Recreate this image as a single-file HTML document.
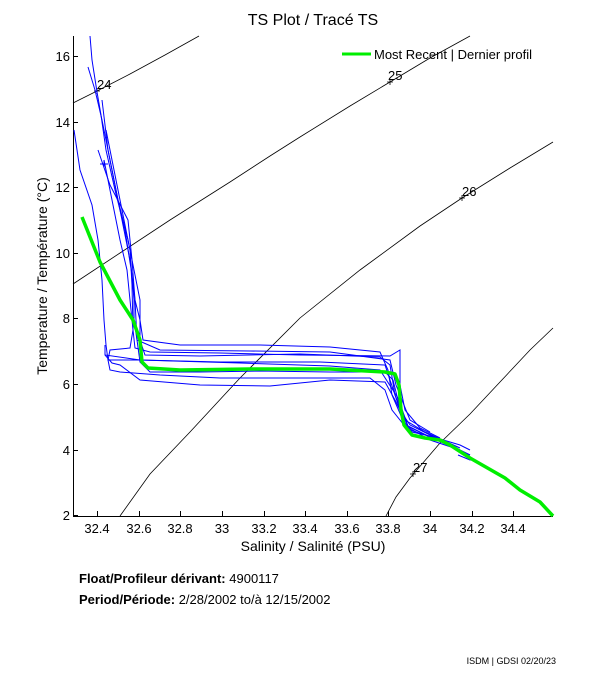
<!DOCTYPE html>
<html><head><meta charset="utf-8"><style>
html,body{margin:0;padding:0;background:#fff;width:611px;height:675px;overflow:hidden}
svg{display:block}
text{font-family:"Liberation Sans",sans-serif;fill:#000}
</style></head><body>
<svg width="611" height="675" viewBox="0 0 611 675">
<text x="313" y="25" font-size="16" text-anchor="middle">TS Plot / Tracé TS</text>
<g stroke="#000" stroke-width="1" fill="none">
<line x1="73.5" y1="36" x2="73.5" y2="516"/>
<line x1="73" y1="516.5" x2="553" y2="516.5"/>
<line x1="73" y1="56.5" x2="78" y2="56.5"/><line x1="73" y1="122.5" x2="78" y2="122.5"/>
<line x1="73" y1="187.5" x2="78" y2="187.5"/><line x1="73" y1="253.5" x2="78" y2="253.5"/>
<line x1="73" y1="318.5" x2="78" y2="318.5"/><line x1="73" y1="384.5" x2="78" y2="384.5"/>
<line x1="73" y1="450.5" x2="78" y2="450.5"/><line x1="73" y1="515.5" x2="78" y2="515.5"/>
<line x1="97.5" y1="516" x2="97.5" y2="511"/><line x1="139.5" y1="516" x2="139.5" y2="511"/>
<line x1="180.5" y1="516" x2="180.5" y2="511"/><line x1="222.5" y1="516" x2="222.5" y2="511"/>
<line x1="264.5" y1="516" x2="264.5" y2="511"/><line x1="305.5" y1="516" x2="305.5" y2="511"/>
<line x1="347.5" y1="516" x2="347.5" y2="511"/><line x1="388.5" y1="516" x2="388.5" y2="511"/>
<line x1="430.5" y1="516" x2="430.5" y2="511"/><line x1="472.5" y1="516" x2="472.5" y2="511"/>
<line x1="513.5" y1="516" x2="513.5" y2="511"/>
</g>
<g font-size="13" text-anchor="end">
<text x="70" y="61">16</text><text x="70" y="127">14</text><text x="70" y="192">12</text>
<text x="70" y="258">10</text><text x="70" y="323">8</text><text x="70" y="389">6</text>
<text x="70" y="455">4</text><text x="70" y="520">2</text>
</g>
<g font-size="13" text-anchor="middle">
<text x="97" y="533">32.4</text><text x="139" y="533">32.6</text><text x="180" y="533">32.8</text>
<text x="222" y="533">33</text><text x="264" y="533">33.2</text><text x="305" y="533">33.4</text>
<text x="347" y="533">33.6</text><text x="388" y="533">33.8</text><text x="430" y="533">34</text>
<text x="472" y="533">34.2</text><text x="513" y="533">34.4</text>
</g>
<text x="313" y="551" font-size="14" text-anchor="middle">Salinity / Salinité (PSU)</text>
<text transform="translate(47,276) rotate(-90)" font-size="14" text-anchor="middle">Temperature / Température (°C)</text>
<g stroke="#000" stroke-width="0.8" fill="none">
<polyline points="73,103 97,91 130,74 165,55 199,36"/>
<polyline points="73,284 120,253 170,220 230,182 270,156 300,137 350,106 390,82 430,58 470,36"/>
<polyline points="120,516 150,474 190,432 240,378 300,318 360,270 420,226 462,198 510,168 553,142"/>
<polyline points="386,516 396,497 410,478 440,443 470,414 500,382 530,350 553,328"/>
<path d="M94,91h6M97,88v6M387,82h6M390,79v6M459,198h6M462,195v6M410,474h6M413,471v6"/>
</g>
<g font-size="13">
<text x="97" y="89">24</text><text x="388" y="80">25</text><text x="462" y="196">26</text><text x="413" y="472">27</text>
</g>
<g stroke="#0000ff" stroke-width="1" fill="none">
<polyline points="90,36 92,60 97,92 101,115 106,150 115,190 125,230 132,275 135,300 137,340 140,362 150,372 200,372 260,371 330,372 385,372 393,380 398,400 403,420 412,432 430,436 460,445 470,450"/>
<polyline points="88,67 95,90 102,120 110,160 118,200 128,240 134,270 140,300 140,340 145,355 200,356 300,354 380,357 390,365 395,395 400,410 410,425 440,440 470,455"/>
<polyline points="74,130 80,170 92,205 98,240 102,280 104,320 106,345 108,360 110,370 120,372 160,375 220,378 300,378 370,378 385,390 392,410 404,425 430,440 460,450"/>
<polyline points="104,160 112,200 120,240 127,270 130,300 133,330 135,348 150,352 220,353 300,355 390,356 400,350 400,385 405,410 420,428 440,438"/>
<polyline points="102,100 108,150 116,190 124,230 131,265 134,300 134,320 137,340 160,350 250,351 330,352 390,360 396,385 410,420 430,432"/>
<polyline points="106,130 114,170 122,210 130,250 132,285 133,330 130,348 110,350 108,360 140,360 220,362 320,362 385,365 395,395 405,420 425,432 460,448"/>
<polyline points="98,150 110,185 128,220 132,260 135,300 140,320 143,340 180,345 260,345 330,347 380,352 388,370 392,395 405,425 430,437 470,455"/>
<polyline points="105,355 112,363 120,365 140,380 200,385 270,386 330,380 385,382 395,400 410,430 440,440"/>
<polyline points="105,345 105,355 140,360 240,363 330,366 380,370 398,398 408,426 430,437"/>
<polyline points="458,455 470,460 475,460"/>
<path d="M100,164h8M104,160v8"/>
</g>
<polyline fill="none" stroke="#00ee00" stroke-width="3.5" stroke-linejoin="round" points="82,217 100,262 120,300 133,320 140,340 142,362 148,368 180,370 250,369 330,369 385,372 395,374 399,385 401,410 404,425 412,435 425,438 440,440 450,445 470,458 505,478 520,490 540,502 553,516"/>
<line x1="342" y1="54" x2="371" y2="54" stroke="#00ee00" stroke-width="3"/>
<text x="374" y="59" font-size="13">Most Recent | Dernier profil</text>
<text x="79" y="583" font-size="13"><tspan font-weight="bold">Float/Profileur dérivant:</tspan> 4900117</text>
<text x="79" y="604" font-size="13"><tspan font-weight="bold">Period/Période:</tspan> 2/28/2002  to/à  12/15/2002</text>
<text x="556" y="664" font-size="9" text-anchor="end">ISDM | GDSI  02/20/23</text>
</svg>
</body></html>
